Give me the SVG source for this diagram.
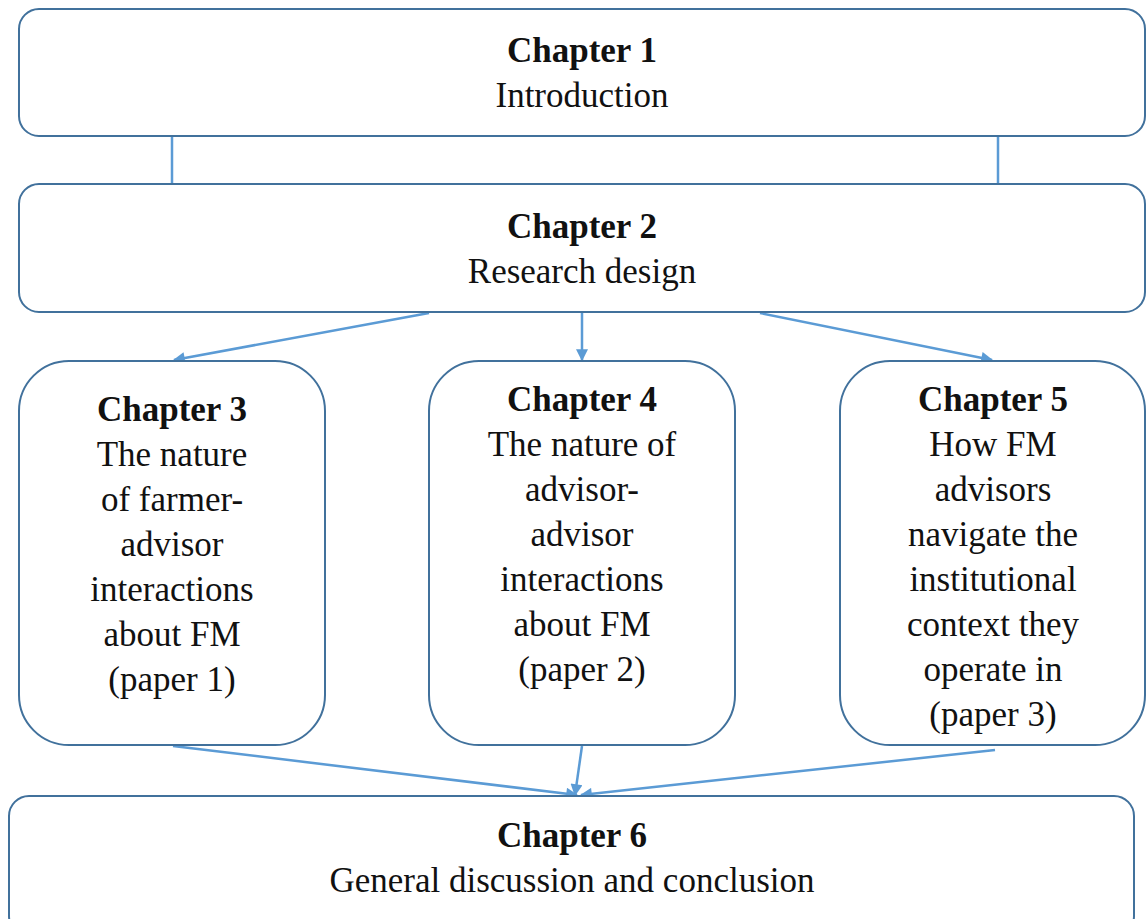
<svg xmlns="http://www.w3.org/2000/svg" width="1148" height="919" viewBox="0 0 1148 919">
<style>
.box{fill:#fff;stroke:#41719C;stroke-width:2}
.t{font-family:"Liberation Serif","Times New Roman",serif;font-size:35px;fill:#111;text-anchor:middle}
.b{font-weight:bold}
.c{stroke:#5B9BD5;stroke-width:2.5;fill:none}
.a{marker-end:url(#ah)}
</style>
<defs>
<marker id="ah" viewBox="0 0 10 10" refX="9" refY="5" markerWidth="14" markerHeight="12" markerUnits="userSpaceOnUse" orient="auto">
<path d="M0,0 L10,5 L0,10 z" fill="#5B9BD5"/>
</marker>
</defs>
<g id="connectors">
<line class="c" x1="172" y1="136" x2="172" y2="184"/>
<line class="c" x1="998" y1="136" x2="998" y2="184"/>
<line class="c a" x1="429" y1="313" x2="174" y2="360"/>
<line class="c a" x1="582" y1="313" x2="582" y2="360"/>
<line class="c a" x1="760" y1="313" x2="992" y2="360"/>
<line class="c a" x1="173" y1="746" x2="577" y2="795"/>
<line class="c a" x1="582" y1="746" x2="575" y2="795"/>
<line class="c a" x1="995" y1="750" x2="581" y2="795"/>
</g>
<g id="ch1">
<rect class="box" x="19" y="9" width="1126" height="127" rx="20"/>
<text class="t b" x="582" y="62">Chapter 1</text>
<text class="t" x="582" y="107">Introduction</text>
</g>
<g id="ch2">
<rect class="box" x="19" y="184" width="1126" height="128" rx="20"/>
<text class="t b" x="582" y="238">Chapter 2</text>
<text class="t" x="582" y="283">Research design</text>
</g>
<g id="ch3">
<rect class="box" x="19" y="361" width="306" height="384" rx="50"/>
<text class="t" x="172" y="421"><tspan class="b">Chapter 3</tspan><tspan x="172" dy="45">The nature</tspan><tspan x="172" dy="45">of  farmer-</tspan><tspan x="172" dy="45">advisor</tspan><tspan x="172" dy="45">interactions</tspan><tspan x="172" dy="45">about FM</tspan><tspan x="172" dy="45">(paper 1)</tspan></text>
</g>
<g id="ch4">
<rect class="box" x="429" y="361" width="306" height="384" rx="50"/>
<text class="t" x="582" y="411"><tspan class="b">Chapter 4</tspan><tspan x="582" dy="45">The nature of</tspan><tspan x="582" dy="45">advisor-</tspan><tspan x="582" dy="45">advisor</tspan><tspan x="582" dy="45">interactions</tspan><tspan x="582" dy="45">about FM</tspan><tspan x="582" dy="45">(paper 2)</tspan></text>
</g>
<g id="ch5">
<rect class="box" x="840" y="361" width="305" height="384" rx="50"/>
<text class="t" x="993" y="411"><tspan class="b">Chapter 5</tspan><tspan x="993" dy="45">How FM</tspan><tspan x="993" dy="45">advisors</tspan><tspan x="993" dy="45">navigate the</tspan><tspan x="993" dy="45">institutional</tspan><tspan x="993" dy="45">context they</tspan><tspan x="993" dy="45">operate in</tspan><tspan x="993" dy="45">(paper 3)</tspan></text>
</g>
<g id="ch6">
<rect class="box" x="9" y="796" width="1125" height="140" rx="20"/>
<text class="t b" x="572" y="847">Chapter 6</text>
<text class="t" x="572" y="892">General discussion and conclusion</text>
</g>
</svg>
